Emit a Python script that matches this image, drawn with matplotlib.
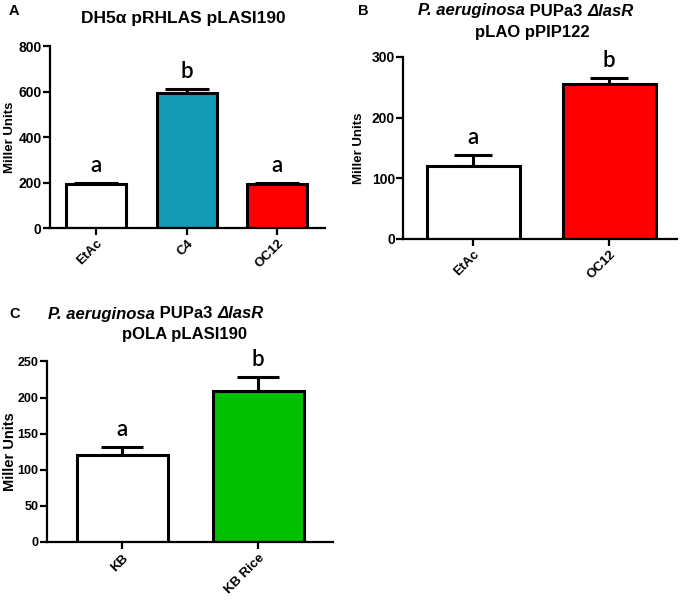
import numpy as np
import matplotlib
matplotlib.use("Agg")
import matplotlib.pyplot as plt
import matplotlib.transforms as mtransforms
from matplotlib.offsetbox import TextArea, HPacker, AnnotationBbox

plt.rcParams['font.family'] = ['Liberation Sans', 'DejaVu Sans']
plt.rcParams['font.weight'] = 'bold'
plt.rcParams['axes.labelweight'] = 'bold'

######################### DATA ################################
cats_a = ["EtAc", "C4", "OC12"]
vals_a = [195, 595, 195]
errs_a = [5, 18, 5]
letters_a = ["a", "b", "a"]
colors_a = ["white", "#139bb5", "#ff0000"]

cats_b = ["EtAc", "OC12"]
vals_b = [120, 255]
errs_b = [18, 11]
letters_b = ["a", "b"]
colors_b = ["white", "#ff0000"]

cats_c = ["KB", "KB Rice"]
vals_c = [120, 209]
errs_c = [11, 20]
letters_c = ["a", "b"]
colors_c = ["white", "#00c000"]

fig = plt.figure(figsize=(6.8, 6.0), dpi=100)


def panel(rect, cats, vals, errs, letters, colors, ymax, ystep, xlim, width, cap,
          tick_size, lab_size, lab_x):
    ax = fig.add_axes(rect)
    x = np.arange(len(cats))
    ax.bar(x, vals, width=width, color=colors, edgecolor="black", linewidth=2.2, zorder=2)
    ax.errorbar(x, vals, yerr=[np.zeros(len(vals)), errs], fmt="none", ecolor="black",
                elinewidth=2.2, capsize=cap, capthick=2.2, zorder=1)
    for xi, v, e, l in zip(x, vals, errs, letters):
        ax.annotate(l, (xi, v + e), xytext=(0, 5), textcoords="offset points",
                    ha="center", va="bottom", fontsize=16, fontweight="semibold",
                    family=["Lato", "DejaVu Sans"])
    ax.set_xlim(*xlim)
    ax.set_ylim(0, ymax)
    ax.set_yticks(np.arange(0, ymax + 1, ystep))
    ax.set_xticks(x)
    ax.set_xticklabels(cats, rotation=45, ha="right", rotation_mode="anchor",
                       fontsize=9.5, fontweight="bold")
    for t in ax.get_yticklabels():
        t.set_fontsize(tick_size)
        t.set_fontweight("bold")
    ax.set_ylabel("Miller Units", fontsize=lab_size, fontweight="bold")
    trans = mtransforms.blended_transform_factory(fig.transFigure, ax.transAxes)
    ax.yaxis.set_label_coords(lab_x / 680, 0.5, transform=trans)
    for s in ["top", "right"]:
        ax.spines[s].set_visible(False)
    for s in ["left", "bottom"]:
        ax.spines[s].set_linewidth(1.6)
    ax.tick_params(width=1.6, length=5)
    ax.tick_params(axis="y", pad=1)
    ax.tick_params(axis="x", pad=2)
    return ax


ax_a = panel([0.0735, 0.62, 0.405, 0.303], cats_a, vals_a, errs_a, letters_a, colors_a,
             800, 200, (-0.508, 2.53), 0.66, 15.5, 10, 9.5, 16)
ax_b = panel([0.593, 0.602, 0.403, 0.303], cats_b, vals_b, errs_b, letters_b, colors_b,
             300, 100, (-0.515, 1.5), 0.68, 13.7, 10, 9.5, 365)
ax_c = panel([0.069, 0.0967, 0.421, 0.301], cats_c, vals_c, errs_c, letters_c, colors_c,
             250, 50, (-0.557, 1.553), 0.67, 15, 9, 10.5, 17)

# panel letters
fig.text(9 / 680, 1 - 11 / 600, "A", fontsize=10.5, va="center", ha="left")
fig.text(358 / 680, 1 - 11 / 600, "B", fontsize=10.5, va="center", ha="left")
fig.text(9 / 680, 1 - 314 / 600, "C", fontsize=10.5, va="center", ha="left")

# titles
fig.text(183 / 680, 1 - 18 / 600, "DH5\u03b1 pRHLAS pLASI190", fontsize=12.5,
         ha="center", va="center")


def species_line(xc, yc):
    props = dict(fontsize=12, fontweight="bold", family="Liberation Sans")
    parts = [TextArea("P. aeruginosa", textprops=dict(style="italic", **props)),
             TextArea(" PUPa3 ", textprops=props),
             TextArea("\u0394lasR", textprops=dict(style="italic", **props))]
    box = HPacker(children=parts, align="baseline", pad=0, sep=0)
    ab = AnnotationBbox(box, (xc / 680, 1 - yc / 600), xycoords="figure fraction",
                        frameon=False, box_alignment=(0.5, 0.5), pad=0)
    fig.add_artist(ab)


species_line(526, 11)
fig.text(532 / 680, 1 - 32 / 600, "pLAO pPIP122", fontsize=12, ha="center", va="center")
species_line(156, 314)
fig.text(184 / 680, 1 - 334 / 600, "pOLA pLASI190", fontsize=12, ha="center", va="center")

fig.savefig("out.png", dpi=100)
